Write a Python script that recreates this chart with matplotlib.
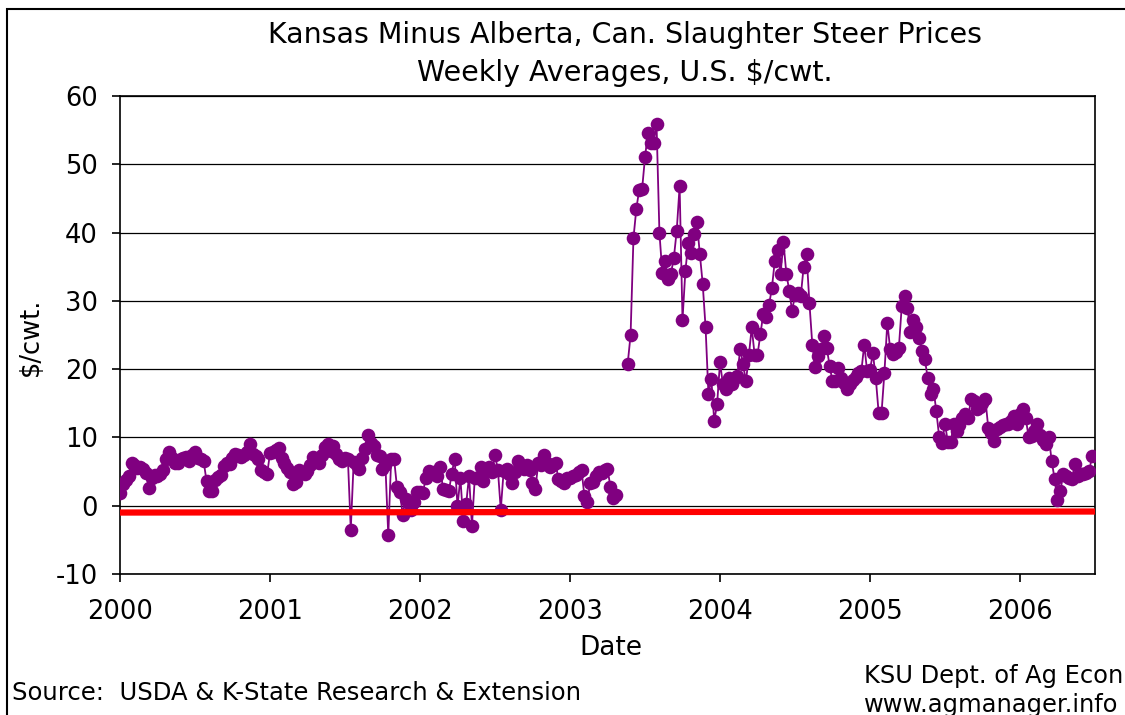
import numpy as np
import matplotlib.pyplot as plt
from matplotlib.patches import Rectangle

plt.rcParams['axes.unicode_minus'] = False

# Kansas minus Alberta slaughter steer price, weekly, US $/cwt
nan = np.nan
spread_2000 = [1.9, 3.2, 3.8, 4.3, 6.3, 6.0, 5.5, 5.7, 5.4, 4.8, 2.6, 4.0, 4.5,
               4.3, 4.6, 5.3, 6.9, 7.9, 7.0, 6.3, 6.2, 6.8, 7.0, 7.1, 6.6, 7.5,
               7.9, 7.0, 6.8, 6.5, 3.6, 2.2, 2.1, 3.7, 4.2, 4.5, 5.8, 6.3, 6.1,
               7.0, 7.6, 7.5, 7.1, 7.5, 7.8, 9.1, 7.6, 7.3, 6.9, 5.2, 5.0, 4.6]
spread_2001 = [7.7, 7.9, 8.2, 8.5, 7.0, 6.3, 5.5, 5.0, 3.2, 3.4, 5.2, 4.8, 4.6,
               5.1, 6.0, 7.2, 6.6, 6.3, 7.5, 8.6, 9.0, 8.0, 8.7, 7.6, 6.8, 6.6,
               7.0, 6.9, -3.5, 6.4, 6.0, 5.4, 7.0, 8.3, 10.3, 9.2, 8.8, 7.5, 7.3,
               5.4, 6.0, -4.3, 6.8, 6.9, 2.8, 2.0, -1.3, 1.0, 0.5, -0.7, 0.6, 2.0]
spread_2002 = [2.0, 1.9, 4.0, 5.1, 4.8, 5.0, 4.4, 5.6, 2.4, 2.3, 2.1, 4.7, 6.9,
               -0.1, 4.1, -2.3, 0.2, 4.4, -3.0, 4.1, 4.0, 5.6, 3.6, 5.2, 5.6, 5.0,
               7.4, 5.3, -0.6, 5.1, 5.4, 4.6, 3.3, 5.0, 6.6, 6.0, 5.4, 5.9, 5.2,
               3.3, 2.4, 6.3, 6.0, 7.4, 6.2, 5.6, 6.0, 6.2, 3.9, 3.6, 3.3, 4.0]
spread_2003 = [4.0, 4.3, 4.5, 5.0, 5.2, 1.4, 0.6, 3.3, 3.5, 4.3, 5.0, 4.8, 5.3,
               5.4, 2.8, 1.1, 1.6, nan, nan, nan, 20.8, 25.0, 39.2, 43.5, 46.3,
               46.4, 51.0, 54.6, 53.1, 53.1, 55.9, 40.0, 34.1, 35.8, 33.2, 34.0,
               36.3, 40.3, 46.8, 27.2, 34.4, 38.5, 37.0, 39.8, 41.5, 36.9, 32.5,
               26.1, 16.3, 18.5, 12.4, 14.9]
spread_2004 = [21.0, 17.8, 17.1, 18.7, 17.8, 18.5, 19.0, 23.0, 20.7, 18.2, 22.0,
               26.1, 22.1, 22.1, 25.1, 28.1, 27.7, 29.4, 31.9, 35.9, 37.5, 34.0,
               38.6, 34.0, 31.5, 28.5, 30.9, 31.1, 30.7, 35.0, 36.8, 29.7, 23.6,
               20.3, 21.9, 23.0, 24.9, 23.1, 20.5, 18.2, 18.3, 20.2, 18.7, 18.0,
               17.1, 17.8, 18.4, 18.9, 19.4, 19.7, 23.6, 19.7]
spread_2005 = [19.9, 22.3, 18.7, 13.6, 13.6, 19.5, 26.8, 22.9, 22.2, 22.5, 23.1,
               29.2, 30.7, 28.9, 25.4, 27.2, 26.1, 24.5, 22.7, 21.5, 18.7, 16.4,
               17.1, 13.8, 10.0, 9.2, 12.0, 9.3, 9.3, 12.0, 10.9, 11.8, 12.8,
               13.5, 12.8, 15.6, 15.3, 14.1, 14.5, 15.0, 15.6, 11.4, 10.7, 9.5,
               11.2, 11.6, 11.8, 11.9, 12.0, 12.4, 13.1, 12.0]
spread_2006 = [13.5, 14.1, 12.8, 10.0, 10.2, 11.0, 11.9, 10.4, 9.6, 9.0, 10.0,
               6.5, 3.9, 0.8, 2.2, 4.6, 4.3, 4.0, 3.9, 6.1, 4.4, 4.6, 4.7, 4.8,
               5.1, 7.3]

years = [2000, 2001, 2002, 2003, 2004, 2005, 2006]
yearly = [spread_2000, spread_2001, spread_2002, spread_2003,
          spread_2004, spread_2005, spread_2006]

# red reference line, start and end value
ref_x = [2000, 2006.5]
ref_y = [-1.0, -0.85]

dates = np.concatenate([yr + np.arange(len(v)) / 52.0 for yr, v in zip(years, yearly)])
spread = np.concatenate([np.array(v, dtype=float) for v in yearly])

W, H = 1125, 715
fig = plt.figure(figsize=(W / 100, H / 100), dpi=100)
ax = fig.add_axes([120 / W, 1 - 574 / H, 975 / W, 478 / H])

purple = '#800080'
ax.plot(dates, spread, color=purple, lw=1.3, marker='o', ms=9.8,
        markeredgewidth=0, zorder=3)
ax.plot(ref_x, ref_y, color='#ff0000', lw=4.5, solid_capstyle='butt', zorder=4)

ax.set_xlim(2000, 2006.5)
ax.set_ylim(-10, 60)
ax.set_xticks(years)
ax.set_yticks(range(-10, 61, 10))
ax.yaxis.grid(True, color='black', lw=0.9)
ax.set_axisbelow(True)
for s in ax.spines.values():
    s.set_color('black')
    s.set_linewidth(1.2)
ax.tick_params(axis='both', direction='out', length=6, width=1.2, labelsize=18.5)
ax.tick_params(axis='y', pad=10)
ax.tick_params(axis='x', pad=12)

fig.text(625 / W, 1 - 35 / H, 'Kansas Minus Alberta, Can. Slaughter Steer Prices',
         ha='center', va='center', fontsize=20.5)
fig.text(625 / W, 1 - 73 / H, 'Weekly Averages, U.S. $/cwt.',
         ha='center', va='center', fontsize=20.5)
fig.text(31 / W, 1 - 337 / H, '$/cwt.', rotation=90, ha='center', va='center',
         fontsize=18.5)
fig.text(611 / W, 1 - 648 / H, 'Date', ha='center', va='center', fontsize=19)
fig.text(12 / W, 1 - 693 / H, 'Source:  USDA & K-State Research & Extension',
         ha='left', va='center', fontsize=17.5)
fig.text(864 / W, 1 - 676 / H, 'KSU Dept. of Ag Econ', ha='left', va='center',
         fontsize=17.4)
fig.text(864 / W, 1 - 705 / H, 'www.agmanager.info', ha='left', va='center',
         fontsize=17.4)

# outer chart-area border (cut off at right and bottom in the original)
fig.patches.append(Rectangle((7 / W, -0.05), 1.1, 1 - 9 / H + 0.05,
                             transform=fig.transFigure, fill=False,
                             edgecolor='black', lw=1.5))

fig.savefig('out.png', dpi=100)
